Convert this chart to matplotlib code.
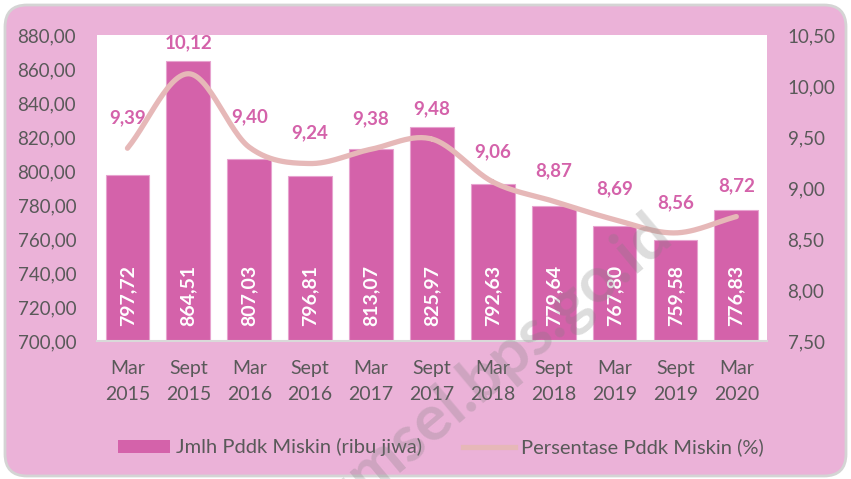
import numpy as np
import matplotlib.pyplot as plt
from matplotlib.patches import FancyBboxPatch, Patch
from matplotlib.lines import Line2D

plt.rcParams['font.family'] = ['Lato', 'DejaVu Sans']

periods = ['Mar\n2015', 'Sept\n2015', 'Mar\n2016', 'Sept\n2016', 'Mar\n2017', 'Sept\n2017',
           'Mar\n2018', 'Sept\n2018', 'Mar\n2019', 'Sept\n2019', 'Mar\n2020']
jumlah = [797.72, 864.51, 807.03, 796.81, 813.07, 825.97, 792.63, 779.64, 767.80, 759.58, 776.83]
persen = [9.39, 10.12, 9.40, 9.24, 9.38, 9.48, 9.06, 8.87, 8.69, 8.56, 8.72]

bg = '#EBB2D8'
bar_col = '#D462AA'
line_col = '#E6B8B8'
txt_col = '#595959'


def fmt(v):
    return f'{v:.2f}'.replace('.', ',')


def smooth(xs, ys, n=30):
    # catmull-rom spline through the points, like excel's smoothed line
    xs = np.asarray(xs, float)
    ys = np.asarray(ys, float)
    px = np.concatenate([[2 * xs[0] - xs[1]], xs, [2 * xs[-1] - xs[-2]]])
    py = np.concatenate([[2 * ys[0] - ys[1]], ys, [2 * ys[-1] - ys[-2]]])
    t = np.linspace(0, 1, n)
    ox, oy = [], []
    for i in range(1, len(px) - 2):
        for p, o in ((px, ox), (py, oy)):
            p0, p1, p2, p3 = p[i - 1], p[i], p[i + 1], p[i + 2]
            o.extend(0.5 * (2 * p1 + (-p0 + p2) * t + (2 * p0 - 5 * p1 + 4 * p2 - p3) * t ** 2
                            + (-p0 + 3 * p1 - 3 * p2 + p3) * t ** 3))
    return np.array(ox), np.array(oy)


fig = plt.figure(figsize=(8.51, 4.79), dpi=100, facecolor='white')
frame = FancyBboxPatch((0.05, 0.03), 8.41, 4.71, boxstyle='round,pad=0,rounding_size=0.22',
                       transform=fig.dpi_scale_trans, facecolor=bg, edgecolor='#D4D4D4',
                       linewidth=2, zorder=-5)
fig.patches.append(frame)

ax = fig.add_axes([0.114, 0.288, 0.787, 0.639])
ax.set_facecolor('white')
x = np.arange(len(periods))
ax.bar(x, jumlah, width=0.72, color=bar_col, edgecolor='#E7A3CF', linewidth=0.8, zorder=2)
ax.set_ylim(700, 880)
ax.set_xlim(-0.5, len(periods) - 0.5)
ax.set_yticks(np.arange(700, 881, 20))
ax.set_yticklabels([fmt(v) for v in np.arange(700, 881, 20)])
ax.set_xticks(x)
ax.set_xticklabels(periods, linespacing=1.6)
ax.tick_params(axis='both', length=0, labelsize=13.5, colors=txt_col)
ax.tick_params(axis='y', pad=15)
ax.tick_params(axis='x', labelsize=14, pad=14)
for s in ['top', 'left', 'right']:
    ax.spines[s].set_visible(False)
ax.spines['bottom'].set_color('#D9D9D9')
ax.spines['bottom'].set_linewidth(1.5)

for i, v in enumerate(jumlah):
    ax.annotate(fmt(v), (i, 700), xytext=(0, 11), textcoords='offset points', rotation=90,
                ha='center', va='bottom', color='white', fontsize=14, fontweight='bold', zorder=4)

ax2 = ax.twinx()
ax2.set_ylim(7.5, 10.5)
ax2.set_yticks(np.arange(7.5, 10.51, 0.5))
ax2.set_yticklabels([fmt(v) for v in np.arange(7.5, 10.51, 0.5)])
ax2.tick_params(axis='y', length=0, labelsize=13.5, colors=txt_col, pad=15)
for s in ax2.spines.values():
    s.set_visible(False)
sx, sy = smooth(x, persen)
ax2.plot(sx, sy, color=line_col, linewidth=3.8, solid_capstyle='round', zorder=3)
for i, v in enumerate(persen):
    ax2.annotate(fmt(v), (i, v), xytext=(0, 22), textcoords='offset points', ha='center',
                 va='center', color=bar_col, fontsize=13.5, fontweight='bold')

handles = [Patch(facecolor=bar_col, edgecolor='none'),
           Line2D([], [], color=line_col, linewidth=3.8)]
fig.legend(handles, ['Jmlh Pddk Miskin (ribu jiwa)', 'Persentase Pddk Miskin (%)'],
           loc='center', bbox_to_anchor=(0.518, 0.066), ncol=2, frameon=False, fontsize=14.5,
           labelcolor=txt_col, handlelength=2.6, handleheight=0.6, handletextpad=0.3,
           columnspacing=2.0)

# watermark
fig.text(0.57, 0.214, 'sumsel.bps.go.id', rotation=40, ha='center', va='center',
         fontsize=46, fontweight='bold', color='#808080', alpha=0.27, zorder=10)

fig.savefig('out.png', dpi=100, facecolor='white')
